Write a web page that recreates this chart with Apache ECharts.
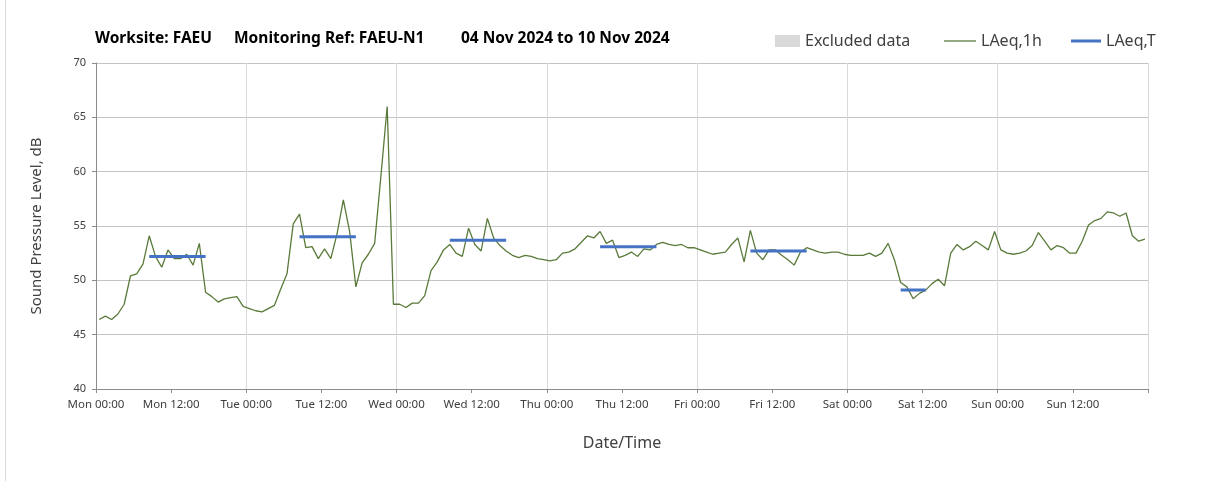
<!DOCTYPE html>
<html>
<head>
<meta charset="utf-8">
<script src="https://cdn.jsdelivr.net/npm/echarts@6/dist/echarts.min.js"></script>
<style>
  html, body { margin: 0; padding: 0; background: #fff; }
  #chart { width: 1208px; height: 481px; }
</style>
</head>
<body>
<div id="chart"></div>
<script>
// hourly LAeq,1h values, Mon 00:00 .. Sun 23:00 (one per hour)
const laeq1h = [
  46.4, 46.7, 46.4, 46.9, 47.8, 50.4, 50.6, 51.5, 54.1, 52.2,
  51.2, 52.8, 52.0, 52.0, 52.4, 51.4, 53.4, 48.9, 48.5, 48.0,
  48.3, 48.4, 48.5, 47.6, 47.4, 47.2, 47.1, 47.4, 47.7, 49.2,
  50.6, 55.2, 56.1, 53.0, 53.1, 52.0, 52.9, 52.0, 54.3, 57.4,
  54.5, 49.4, 51.6, 52.4, 53.4, 59.6, 66.0, 47.8, 47.8, 47.5,
  47.9, 47.9, 48.6, 50.9, 51.7, 52.8, 53.3, 52.5, 52.2, 54.8,
  53.3, 52.7, 55.7, 53.9, 53.2, 52.7, 52.3, 52.1, 52.3, 52.2,
  52.0, 51.9, 51.8, 51.9, 52.5, 52.6, 52.9, 53.5, 54.1, 53.9,
  54.5, 53.4, 53.7, 52.1, 52.3, 52.6, 52.2, 52.9, 52.8, 53.3,
  53.5, 53.3, 53.2, 53.3, 53.0, 53.0, 52.8, 52.6, 52.4, 52.5,
  52.6, 53.3, 53.9, 51.7, 54.6, 52.5, 51.9, 52.8, 52.8, 52.3,
  51.9, 51.4, 52.6, 53.0, 52.8, 52.6, 52.5, 52.6, 52.6, 52.4,
  52.3, 52.3, 52.3, 52.5, 52.2, 52.5, 53.4, 51.9, 49.8, 49.4,
  48.3, 48.8, 49.1, 49.7, 50.1, 49.5, 52.5, 53.3, 52.8, 53.1,
  53.6, 53.2, 52.8, 54.5, 52.8, 52.5, 52.4, 52.5, 52.7, 53.2,
  54.4, 53.6, 52.8, 53.2, 53.0, 52.5, 52.5, 53.6, 55.1, 55.5,
  55.7, 56.3, 56.2, 55.9, 56.2, 54.1, 53.6, 53.8
];

// LAeq,T periods (first and last hour index of each period)
const periodStart = [8, 32, 56, 80, 104, 128];
const periodEnd = [17, 41, 65, 89, 113, 132];
const periodLaeqT = [52.2, 54.0, 53.7, 53.1, 52.7, 49.1];

const tickLabels = ['Mon 00:00', 'Mon 12:00', 'Tue 00:00', 'Tue 12:00', 'Wed 00:00', 'Wed 12:00',
  'Thu 00:00', 'Thu 12:00', 'Fri 00:00', 'Fri 12:00', 'Sat 00:00', 'Sat 12:00', 'Sun 00:00', 'Sun 12:00'];

const FONT = '"Noto Sans", "Open Sans", sans-serif';
const GREEN = '#5a7a3a';
const BLUE = '#4472c4';

var dom = document.getElementById('chart');
var myChart = echarts.init(dom, null, { renderer: 'canvas' });

let hourlyData = laeq1h.map((v, i) => [i + 0.5, v]);

let series = [
  {
    name: 'Excluded data',
    type: 'bar',
    data: [],
    itemStyle: { color: '#d9d9d9' }
  },
  {
    name: 'LAeq,1h',
    type: 'line',
    data: hourlyData,
    showSymbol: false,
    symbol: 'none',
    lineStyle: { color: GREEN, width: 1.3 },
    itemStyle: { color: GREEN },
    z: 3
  }
];
for (let p = 0; p < periodStart.length; p++) {
  series.push({
    name: 'LAeq,T',
    type: 'line',
    data: [[periodStart[p] + 0.5, periodLaeqT[p]], [periodEnd[p] + 0.5, periodLaeqT[p]]],
    showSymbol: false,
    symbol: 'none',
    lineStyle: { color: BLUE, width: 3 },
    itemStyle: { color: BLUE },
    z: 4
  });
}

const legendText = { fontFamily: FONT, fontSize: 16, color: '#404040' };
const titleText = { fontFamily: FONT, fontSize: 15.5, fontWeight: 'bold', color: '#000' };

var option = {
  animation: false,
  backgroundColor: '#fff',
  title: [
    { text: 'Worksite: FAEU', left: 90, top: 26, textStyle: titleText },
    { text: 'Monitoring Ref: FAEU-N1', left: 229, top: 26, textStyle: titleText },
    { text: '04 Nov 2024 to 10 Nov 2024', left: 456, top: 26, textStyle: titleText }
  ],
  legend: [
    {
      left: 770, top: 28, itemWidth: 25, itemHeight: 12, itemGap: 4,
      data: [{ name: 'Excluded data', icon: 'rect' }],
      textStyle: legendText
    },
    {
      left: 939, top: 28, itemWidth: 32, itemHeight: 12,
      data: [{ name: 'LAeq,1h', icon: 'path://M0,0 L32,0 L32,1.3 L0,1.3 Z' }],
      textStyle: legendText
    },
    {
      left: 1066, top: 28, itemWidth: 30, itemHeight: 12,
      data: [{ name: 'LAeq,T', icon: 'path://M0,0 L30,0 L30,3 L0,3 Z' }],
      textStyle: legendText
    }
  ],
  grid: { left: 96, right: 60, top: 63, bottom: 92 },
  xAxis: [
    {
      type: 'value',
      min: 0,
      max: 168,
      interval: 12,
      name: 'Date/Time',
      nameLocation: 'middle',
      nameGap: 46,
      nameTextStyle: { fontFamily: FONT, fontSize: 16, color: '#404040' },
      axisLine: { show: true, lineStyle: { color: '#8c8c8c', width: 1 } },
      axisTick: { show: true, length: 4, lineStyle: { color: '#8c8c8c' } },
      axisLabel: {
        fontFamily: FONT, fontSize: 11.5, color: '#404040', margin: 10,
        formatter: v => tickLabels[v / 12] || ''
      },
      splitLine: { show: false }
    },
    {
      type: 'value',
      min: 0,
      max: 168,
      interval: 24,
      position: 'bottom',
      axisLine: { show: false },
      axisTick: { show: false },
      axisLabel: { show: false },
      splitLine: { show: true, lineStyle: { color: '#dadada', width: 1 } }
    }
  ],
  yAxis: {
    type: 'value',
    min: 40,
    max: 70,
    interval: 5,
    name: 'Sound Pressure Level, dB',
    nameLocation: 'middle',
    nameGap: 52,
    nameTextStyle: { fontFamily: FONT, fontSize: 15, color: '#404040' },
    axisLine: { show: true, lineStyle: { color: '#8c8c8c', width: 1 } },
    axisTick: { show: true, length: 4, lineStyle: { color: '#8c8c8c' } },
    axisLabel: { fontFamily: FONT, fontSize: 11, color: '#404040', margin: 10 },
    splitLine: { show: true, lineStyle: { color: '#c4c4c4', width: 1 } }
  },
  graphic: [
    {
      type: 'line',
      shape: { x1: 5.5, y1: 0, x2: 5.5, y2: 481 },
      style: { stroke: '#d9d9d9', lineWidth: 1 }
    }
  ],
  series: series
};

myChart.setOption(option);
window.addEventListener('resize', myChart.resize);
</script>
</body>
</html>
